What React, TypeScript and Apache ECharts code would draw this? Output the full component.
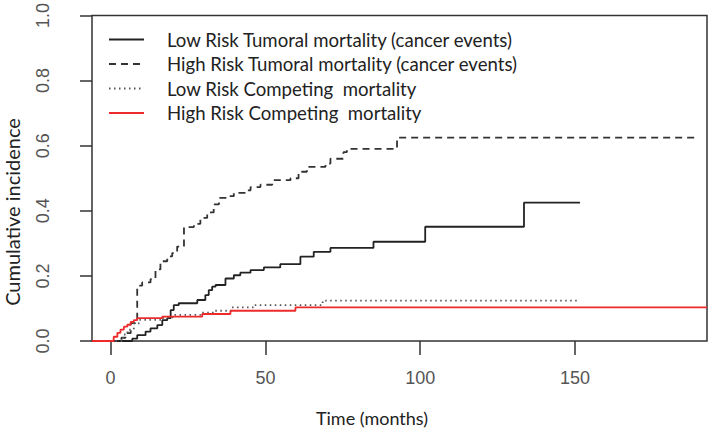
import React, { useEffect, useRef } from "react";
import * as echarts from "echarts";

const seriesNames = [
  "Low Risk Tumoral mortality (cancer events)",
  "High Risk Tumoral mortality (cancer events)",
  "Low Risk Competing  mortality",
  "High Risk Competing  mortality",
];

const lowTumoralMonths = [0, 7.0, 8.6, 11.3, 12.9, 15.1, 16.7, 18.3, 19.4, 20.4, 22.0, 28.0, 30.6, 31.7, 32.8, 33.9, 37.1, 39.8, 41.9, 45.2, 49.5, 54.8, 61.3, 65.6, 71.0, 84.9, 101.6, 133.5, 151.6];
const lowTumoralValues = [0, 0.007, 0.018, 0.029, 0.039, 0.049, 0.064, 0.07, 0.095, 0.11, 0.116, 0.126, 0.141, 0.156, 0.167, 0.172, 0.192, 0.202, 0.21, 0.218, 0.226, 0.236, 0.259, 0.274, 0.286, 0.305, 0.351, 0.425, 0.425];

const highTumoralMonths = [0, 3.5, 4.8, 6.5, 8.6, 10.2, 12.9, 14.5, 16.1, 18.3, 19.9, 21.5, 23.7, 26.9, 29.0, 31.2, 33.3, 35.0, 37.6, 39.8, 44.1, 45.2, 48.4, 52.2, 58.1, 60.7, 63.4, 69.4, 71.0, 75.2, 76.3, 92.5, 190];
const highTumoralValues = [0, 0.01, 0.024, 0.055, 0.17, 0.18, 0.19, 0.22, 0.245, 0.26, 0.27, 0.29, 0.35, 0.36, 0.378, 0.395, 0.42, 0.44, 0.445, 0.455, 0.463, 0.473, 0.48, 0.494, 0.5, 0.52, 0.535, 0.545, 0.56, 0.58, 0.59, 0.625, 0.625];

const lowCompetingMonths = [0, 4.0, 5.5, 7.5, 9.5, 17.0, 20.0, 29.0, 33.0, 39.0, 46.2, 68.5, 151.6];
const lowCompetingValues = [0, 0.02, 0.035, 0.054, 0.065, 0.072, 0.08, 0.087, 0.093, 0.103, 0.11, 0.124, 0.124];

const highCompetingMonths = [-6, 0.5, 1.0, 2.2, 3.2, 4.3, 5.4, 6.5, 7.5, 8.6, 16.7, 29.6, 38.7, 59.7, 192.6];
const highCompetingValues = [0, 0, 0.013, 0.025, 0.035, 0.044, 0.05, 0.059, 0.064, 0.07, 0.075, 0.083, 0.093, 0.103, 0.103];

const xTicks = [0, 50, 100, 150];
const yTicks = [0, 0.2, 0.4, 0.6, 0.8, 1.0];

const xTitle = "Time (months)";
const yTitle = "Cumulative incidence";

function pairs(xs: number[], ys: number[]) {
  return xs.map((x, i) => [x, ys[i]]);
}

export default function App() {
  const ref = useRef<HTMLDivElement>(null);
  useEffect(() => {
    if (!ref.current) return;
    const chart = echarts.init(ref.current, null, { renderer: "svg" });
    const lineBase = { type: "line", step: "end", symbol: "none", showSymbol: false, silent: true };
    chart.setOption({
      animation: false,
      backgroundColor: "#ffffff",
      grid: {
        left: 92,
        right: 2,
        top: 15,
        bottom: 91,
        show: true,
        borderColor: "#333333",
        borderWidth: 1.5,
        backgroundColor: "transparent",
      },
      legend: {
        orient: "vertical",
        left: 108,
        top: 28,
        padding: 0,
        itemWidth: 35,
        itemHeight: 14,
        itemGap: 1.5,
        selectedMode: false,
        itemStyle: { color: "transparent", borderColor: "transparent", borderWidth: 0 },
        textStyle: {
          fontFamily: "Lato",
          fontSize: 18.6,
          color: "#222222",
          lineHeight: 14,
          padding: [0, 0, 9, 18],
        },
        data: seriesNames,
      },
      xAxis: {
        type: "value",
        min: -6,
        max: 192.6,
        axisLine: { show: false, onZero: false },
        splitLine: { show: false },
        axisTick: { show: true, customValues: xTicks, length: 14, lineStyle: { color: "#333333", width: 1.5 } },
        axisLabel: {
          customValues: xTicks,
          margin: 28,
          fontFamily: "Liberation Sans",
          fontSize: 18,
          color: "#555555",
        },
      },
      yAxis: {
        type: "value",
        min: 0,
        max: 1,
        interval: 0.2,
        axisLine: { show: false, onZero: false },
        splitLine: { show: false },
        axisTick: { show: true, length: 12, lineStyle: { color: "#333333", width: 1.5 } },
        axisLabel: {
          rotate: 90,
          margin: 40,
          fontFamily: "Liberation Sans",
          fontSize: 18,
          color: "#555555",
          formatter: (v: number) => v.toFixed(1),
        },
      },
      graphic: [
        {
          type: "text",
          x: 372,
          y: 418,
          style: { text: xTitle, fontFamily: "Lato", fontSize: 18, fill: "#222222", align: "center", verticalAlign: "middle" },
        },
        {
          type: "text",
          x: 12,
          y: 212,
          rotation: Math.PI / 2,
          style: { text: yTitle, fontFamily: "Lato", fontSize: 20, fill: "#222222", align: "center", verticalAlign: "middle" },
        },
      ],
      series: [
        { ...lineBase, name: seriesNames[0], data: pairs(lowTumoralMonths, lowTumoralValues), lineStyle: { color: "#222222", width: 1.8, type: "solid" }, itemStyle: { color: "#222222" } },
        { ...lineBase, name: seriesNames[1], data: pairs(highTumoralMonths, highTumoralValues), lineStyle: { color: "#333333", width: 1.8, type: [7, 5] }, itemStyle: { color: "#333333" } },
        { ...lineBase, name: seriesNames[2], data: pairs(lowCompetingMonths, lowCompetingValues), lineStyle: { color: "#555555", width: 1.8, type: [1.5, 3.5] }, itemStyle: { color: "#555555" } },
        { ...lineBase, name: seriesNames[3], data: pairs(highCompetingMonths, highCompetingValues), lineStyle: { color: "#ee2b2b", width: 1.8, type: "solid" }, itemStyle: { color: "#ee2b2b" } },
      ],
    });
    return () => chart.dispose();
  }, []);
  return <div ref={ref} style={{ width: 709, height: 432, position: "absolute", left: 0, top: 0 }} />;
}
